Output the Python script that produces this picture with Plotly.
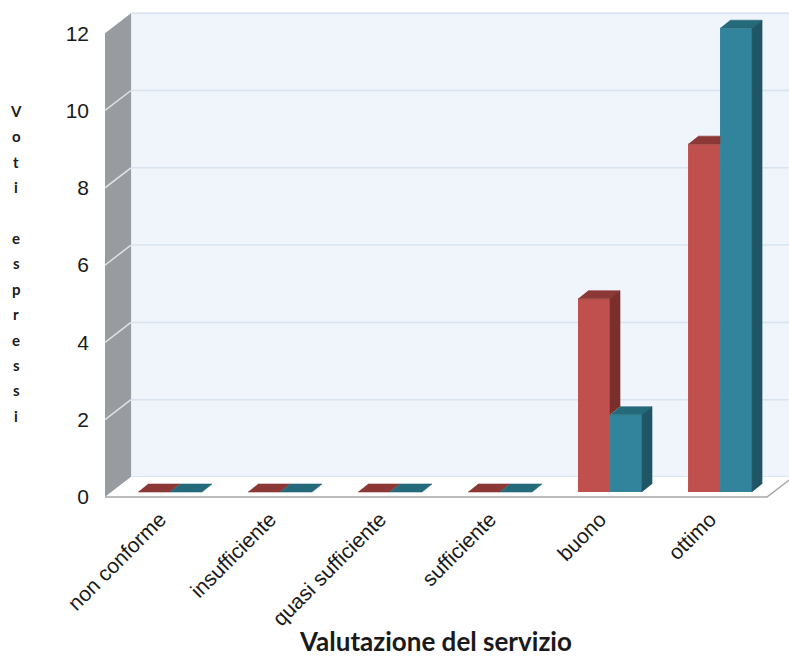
import plotly.graph_objects as go

# ---- data ----
categories = ["non conforme", "insufficiente", "quasi sufficiente", "sufficiente", "buono", "ottimo"]
serie_rossa = [0, 0, 0, 0, 5, 9]
serie_verde = [0, 0, 0, 0, 2, 12]
y_tick_values = [0, 2, 4, 6, 8, 10, 12]
y_title = "Voti espressi"
x_title = "Valutazione del servizio"

# ---- geometry of the pseudo-3D box (axis units) ----
PX_PER_X = 110.0          # pixels per category
PX_PER_Y = 38.65          # pixels per vote
BAR_W = 0.291             # width of one bar
BAR_DX = 10 / PX_PER_X    # bar depth, horizontal
BAR_DY = 8 / PX_PER_Y     # bar depth, vertical
WALL_DX = 26 / PX_PER_X   # box depth, horizontal
WALL_DY = 20 / PX_PER_Y   # box depth, vertical
FRONT0 = -5 / PX_PER_Y    # front edge of the floor
X_LEFT = -0.5909
X_RIGHT = 5.627
FLOOR_RIGHT = 5.427

Y_MIN, Y_MAX = -8 / PX_PER_Y, 492 / PX_PER_Y

TICK_FONT = "Liberation Sans, Arial, sans-serif"


def front(v):
    return v + FRONT0


def back(v):
    return v + FRONT0 + WALL_DY


RED = dict(front="#C0504D", top="#8C3836", side="#7A2F2D")
TEAL = dict(front="#31849B", top="#256A7B", side="#1F5564")

fig = go.Figure()

# front faces of the columns
fig.add_trace(go.Bar(x=list(range(len(categories))), y=serie_rossa, marker=dict(color=RED["front"], line=dict(width=0)),
                     hoverinfo="skip", showlegend=False))
fig.add_trace(go.Bar(x=list(range(len(categories))), y=serie_verde, marker=dict(color=TEAL["front"], line=dict(width=0)),
                     hoverinfo="skip", showlegend=False))


def face(xs, ys, color):
    fig.add_trace(go.Scatter(x=xs, y=ys, mode="lines", fill="toself", fillcolor=color,
                             line=dict(color=color, width=0.6), hoverinfo="skip", showlegend=False))


for i, (a, b) in enumerate(zip(serie_rossa, serie_verde)):
    # red column: from i - BAR_W to i
    xl, xr = i - BAR_W, i
    if b > a:
        # top cut by the taller teal column in front of it
        face([xl, xr, xr, xl + BAR_DX], [a, a, a + BAR_DY, a + BAR_DY], RED["top"])
    else:
        face([xl, xr, xr + BAR_DX, xl + BAR_DX], [a, a, a + BAR_DY, a + BAR_DY], RED["top"])
        if a > b:
            face([xr, xr, xr + BAR_DX, xr + BAR_DX], [b, a, a + BAR_DY, b + BAR_DY], RED["side"])
    # teal column: from i to i + BAR_W
    xl, xr = i, i + BAR_W
    face([xl, xr, xr + BAR_DX, xl + BAR_DX], [b, b, b + BAR_DY, b + BAR_DY], TEAL["top"])
    if b > 0:
        face([xr, xr, xr + BAR_DX, xr + BAR_DX], [0, b, b + BAR_DY, BAR_DY], TEAL["side"])

# ---- walls and floor ----
shapes = []
xb = X_LEFT + WALL_DX
top = max(y_tick_values)
# back wall
shapes.append(dict(type="rect", xref="x", yref="y", x0=xb, x1=X_RIGHT + 0.2, y0=back(0), y1=back(top),
                   fillcolor="#EFF5FB", line=dict(color="#DCE6F1", width=1), layer="below"))
# left wall
shapes.append(dict(type="path", xref="x", yref="y", layer="below",
                   path=f"M{X_LEFT},{front(0)} L{X_LEFT},{front(top)} L{xb},{back(top)} L{xb},{back(0)} Z",
                   fillcolor="#989BA0", line=dict(width=0)))
# gridlines on back wall and left wall
for v in y_tick_values:
    shapes.append(dict(type="line", xref="x", yref="y", x0=xb, x1=X_RIGHT + 0.2, y0=back(v), y1=back(v),
                       line=dict(color="#D8E3EF", width=1.5), layer="below"))
    if 0 < v < top:
        shapes.append(dict(type="line", xref="x", yref="y", x0=X_LEFT, x1=xb, y0=front(v), y1=back(v),
                           line=dict(color="#DDE3EA", width=1.5), layer="below"))
# floor
shapes.append(dict(type="path", xref="x", yref="y", layer="below",
                   path=f"M{X_LEFT},{front(0)} L{FLOOR_RIGHT},{front(0)} L{FLOOR_RIGHT + WALL_DX},{back(0)} "
                        f"L{xb},{back(0)} Z",
                   fillcolor="#FFFFFF", line=dict(width=0)))
shapes.append(dict(type="path", xref="x", yref="y", layer="below",
                   path=f"M{X_LEFT},{front(0)} L{FLOOR_RIGHT},{front(0)} L{FLOOR_RIGHT + WALL_DX},{back(0)}",
                   line=dict(color="#A6A6A6", width=1.5)))

# ---- axis titles ----
annotations = []
plot_left, plot_w, plot_h = 105, 684, 500
k = 0
for ch in y_title:
    if ch != " ":
        annotations.append(dict(text=ch, xref="paper", yref="paper", showarrow=False,
                                x=(16.5 - plot_left) / plot_w, y=(plot_h - (111 + 25.4 * k)) / plot_h,
                                xanchor="center", yanchor="middle",
                                font=dict(family="Lato", size=15, color="#1a1a1a", weight="bold")))
    k += 1
annotations.append(dict(text=f"<b>{x_title}</b>", xref="paper", yref="paper", showarrow=False,
                        x=(435 - plot_left) / plot_w, y=(plot_h - 659) / plot_h,
                        xanchor="center", yanchor="bottom",
                        font=dict(family="Lato", size=26, color="#1a1a1a")))

fig.update_layout(
    width=789, height=660, autosize=False,
    margin=dict(l=plot_left, r=0, t=0, b=160, pad=0),
    paper_bgcolor="#FFFFFF", plot_bgcolor="#FFFFFF",
    barmode="group", bargap=1 - 2 * BAR_W, bargroupgap=0,
    shapes=shapes, annotations=annotations,
    xaxis=dict(range=[X_LEFT, X_RIGHT], tickvals=list(range(len(categories))), ticktext=categories,
               tickangle=-45, showgrid=False, zeroline=False, showline=False, ticks="",
               ticklabelshift=-10, ticklabelstandoff=2,
               tickfont=dict(family=TICK_FONT, size=21, color="#1a1a1a"), fixedrange=True),
    yaxis=dict(range=[Y_MIN, Y_MAX], tickvals=y_tick_values, showgrid=False, zeroline=False, showline=False,
               ticks="", ticklabelshift=5, ticklabelstandoff=15,
               tickfont=dict(family=TICK_FONT, size=21, color="#1a1a1a"), fixedrange=True),
)

fig.write_html("out.html")
